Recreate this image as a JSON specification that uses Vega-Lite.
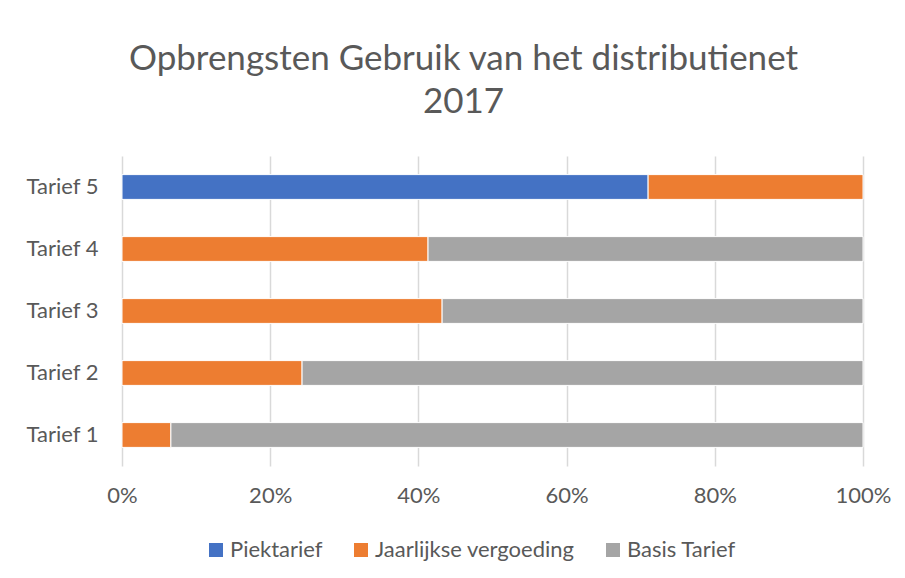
{
  "$schema": "https://vega.github.io/schema/vega-lite/v6.json",
  "autosize": "none",
  "width": 741,
  "height": 310,
  "padding": {"left": 122, "top": 156, "right": 42, "bottom": 112},
  "background": "white",
  "title": {
    "text": ["Opbrengsten Gebruik van het distributienet", "2017"],
    "font": "Lato",
    "fontSize": 35,
    "fontWeight": "normal",
    "color": "#595959",
    "lineHeight": 43,
    "anchor": "middle",
    "dx": -29,
    "offset": 36
  },
  "data": {
    "values": [
      {"tarief": "Tarief 5", "serie": "Piektarief", "o": 1, "v": 71.0},
      {"tarief": "Tarief 5", "serie": "Jaarlijkse vergoeding", "o": 2, "v": 29.0},
      {"tarief": "Tarief 4", "serie": "Jaarlijkse vergoeding", "o": 2, "v": 41.3},
      {"tarief": "Tarief 4", "serie": "Basis Tarief", "o": 3, "v": 58.7},
      {"tarief": "Tarief 3", "serie": "Jaarlijkse vergoeding", "o": 2, "v": 43.2},
      {"tarief": "Tarief 3", "serie": "Basis Tarief", "o": 3, "v": 56.8},
      {"tarief": "Tarief 2", "serie": "Jaarlijkse vergoeding", "o": 2, "v": 24.3},
      {"tarief": "Tarief 2", "serie": "Basis Tarief", "o": 3, "v": 75.7},
      {"tarief": "Tarief 1", "serie": "Jaarlijkse vergoeding", "o": 2, "v": 6.6},
      {"tarief": "Tarief 1", "serie": "Basis Tarief", "o": 3, "v": 93.4}
    ]
  },
  "mark": {"type": "bar", "stroke": "white", "strokeWidth": 1},
  "encoding": {
    "y": {
      "field": "tarief",
      "type": "nominal",
      "sort": ["Tarief 5", "Tarief 4", "Tarief 3", "Tarief 2", "Tarief 1"],
      "scale": {"paddingInner": 0.6, "paddingOuter": 0.3},
      "axis": {
        "title": null,
        "domain": false,
        "ticks": false,
        "labelPadding": 24,
        "labelFont": "Lato",
        "labelFontSize": 22,
        "labelColor": "#595959"
      }
    },
    "x": {
      "field": "v",
      "type": "quantitative",
      "stack": "normalize",
      "scale": {"domain": [0, 1], "nice": false},
      "axis": {
        "title": null,
        "format": "%",
        "values": [0, 0.2, 0.4, 0.6, 0.8, 1],
        "domain": false,
        "ticks": false,
        "labelFlush": false,
        "labelPadding": 19,
        "labelFont": "Lato",
        "labelFontSize": 22,
        "labelColor": "#595959",
        "grid": true,
        "gridColor": "#D9D9D9",
        "gridWidth": 1.5
      }
    },
    "color": {
      "field": "serie",
      "type": "nominal",
      "scale": {
        "domain": ["Piektarief", "Jaarlijkse vergoeding", "Basis Tarief"],
        "range": ["#4472C4", "#ED7D31", "#A5A5A5"]
      },
      "legend": {
        "title": null,
        "orient": "none",
        "direction": "horizontal",
        "legendX": 83,
        "legendY": 383,
        "symbolType": "square",
        "symbolSize": 196,
        "symbolStrokeWidth": 0,
        "labelFont": "Lato",
        "labelFontSize": 22,
        "labelColor": "#595959",
        "labelLimit": 0,
        "columnPadding": 27,
        "labelOffset": 3
      }
    },
    "order": {"field": "o", "type": "quantitative"}
  },
  "config": {"view": {"stroke": null}}
}
